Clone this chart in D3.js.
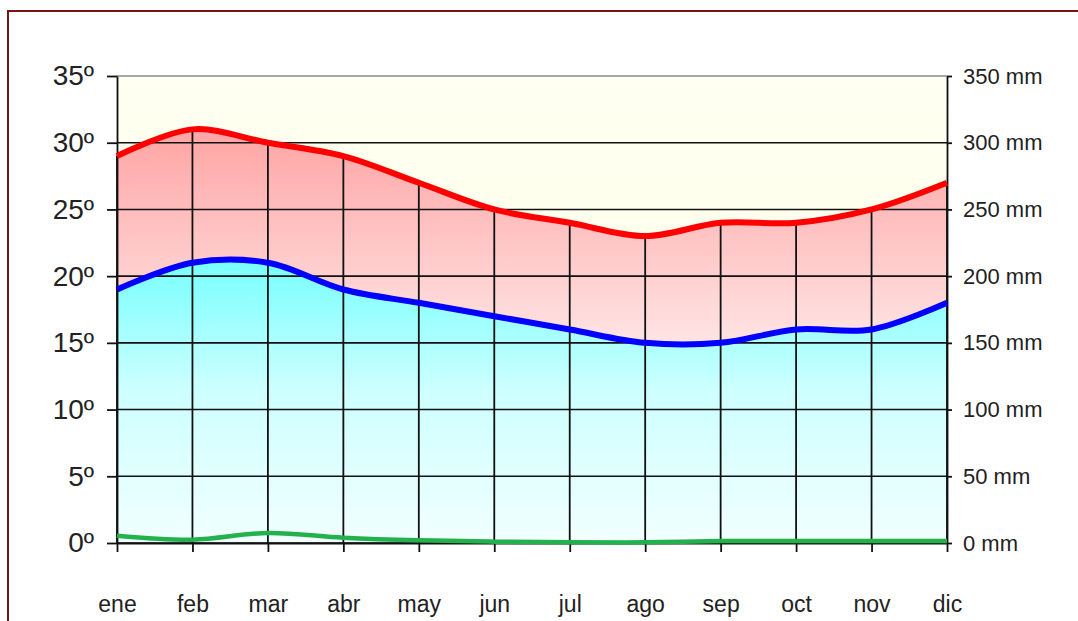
<!DOCTYPE html>
<html>
<head>
<meta charset="utf-8">
<script src="https://cdn.jsdelivr.net/npm/d3@7"></script>
<style>
  body { margin: 0; background: #fff; }
  svg { display: block; }
</style>
</head>
<body>
<div class="vis-clima"></div>
<script>
// climate data
const months = ['ene', 'feb', 'mar', 'abr', 'may', 'jun', 'jul', 'ago', 'sep', 'oct', 'nov', 'dic'];
const tempMax = [29, 31, 30, 29, 27, 25, 24, 23, 24, 24, 25, 27];
const tempMin = [19, 21, 21, 19, 18, 17, 16, 15, 15, 16, 16, 18];
const precip = [5.5, 2.5, 7.5, 4, 2, 1, 0.5, 0.5, 1.5, 1.5, 1.5, 1.5];
const tempTicks = [0, 5, 10, 15, 20, 25, 30, 35];
const mmTicks = [0, 50, 100, 150, 200, 250, 300, 350];

const W = 1078, H = 621;
const margin = {top: 76, right: 131, bottom: 78, left: 117};
const width = W - margin.left - margin.right;
const height = H - margin.top - margin.bottom;

const root = d3.select('.vis-clima').append('svg')
    .attr('width', W)
    .attr('height', H);

// frame (dark red, top and left only)
root.append('path')
    .attr('d', 'M8,' + H + 'V11H' + W)
    .attr('fill', 'none')
    .attr('stroke', '#7a1414')
    .attr('stroke-width', 2);

const defs = root.append('defs');
const grad = (id, y0, y1, stops) => {
    const g = defs.append('linearGradient')
        .attr('id', id)
        .attr('gradientUnits', 'userSpaceOnUse')
        .attr('x1', 0).attr('x2', 0)
        .attr('y1', y0).attr('y2', y1);
    stops.forEach(s => g.append('stop').attr('offset', s[0]).attr('stop-color', s[1]));
};

const svg = root.append('g')
    .attr('transform', 'translate(' + margin.left + ',' + margin.top + ')');

let x = d3.scalePoint().domain(months).range([0, width]);
let yT = d3.scaleLinear().domain([0, 35]).range([height, 0]);
let yP = d3.scaleLinear().domain([0, 350]).range([height, 0]);

grad('bgYellow', 0, height, [[0, '#fffff2'], [1, '#ffffe4']]);
grad('pink', yT(31), yT(15), [[0, '#ffa4a4'], [1, '#ffe4e4']]);
grad('cyan', yT(21), height, [[0, '#78ffff'], [0.45, '#ccffff'], [1, '#f2ffff']]);

const curve = d3.curveCatmullRom.alpha(0.5);

// plot background
svg.append('rect')
    .attr('width', width)
    .attr('height', height)
    .attr('fill', 'url(#bgYellow)');

// area under max temp and under min temp
svg.append('path')
    .datum(months)
    .attr('fill', 'url(#pink)')
    .attr('d', d3.area().curve(curve)
        .x(d => x(d))
        .y0(height)
        .y1((d, i) => yT(tempMax[i])));

svg.append('path')
    .datum(months)
    .attr('fill', 'url(#cyan)')
    .attr('d', d3.area().curve(curve)
        .x(d => x(d))
        .y0(height)
        .y1((d, i) => yT(tempMin[i])));

// horizontal gridlines
svg.selectAll('.hgrid')
    .data(tempTicks)
    .enter().append('line')
    .attr('class', 'hgrid')
    .attr('x1', 0).attr('x2', width)
    .attr('y1', d => yT(d)).attr('y2', d => yT(d))
    .attr('stroke', d => d === 35 ? '#8a8a8a' : '#111')
    .attr('stroke-width', 1.6);

// drop lines from the max series
svg.selectAll('.drop')
    .data(months)
    .enter().append('line')
    .attr('class', 'drop')
    .attr('x1', d => x(d)).attr('x2', d => x(d))
    .attr('y1', (d, i) => yT(tempMax[i])).attr('y2', height)
    .attr('stroke', '#111')
    .attr('stroke-width', 1.8);

// axes
const styleAxis = (g) => {
    g.select('.domain').attr('stroke', '#111').attr('stroke-width', 1.8);
    g.selectAll('.tick line').attr('stroke', '#111').attr('stroke-width', 1.8);
    g.selectAll('.tick text')
        .attr('fill', '#222')
        .style('font-family', '"Liberation Sans", Arial, sans-serif');
};

svg.append('g')
    .call(d3.axisLeft(yT).tickValues(tempTicks).tickFormat(d => d + 'º')
        .tickSize(10).tickSizeOuter(0).tickPadding(13))
    .call(styleAxis)
    .call(g => g.selectAll('.tick text').style('font-size', '28px'));

svg.append('g')
    .attr('transform', 'translate(' + width + ',0)')
    .call(d3.axisRight(yP).tickValues(mmTicks).tickFormat(d => d + ' mm')
        .tickSize(5).tickSizeOuter(0).tickPadding(11))
    .call(styleAxis)
    .call(g => g.selectAll('.tick text').style('font-size', '22px'));

svg.append('g')
    .attr('transform', 'translate(0,' + height + ')')
    .call(d3.axisBottom(x).tickSize(9).tickSizeOuter(0).tickPadding(0))
    .call(styleAxis)
    .call(g => g.selectAll('.tick text')
        .style('font-size', '23px')
        .attr('y', 69)
        .attr('dy', 0));

// series lines
const line = (vals, yScale) => d3.line().curve(curve)
    .x(d => x(d))
    .y((d, i) => yScale(vals[i]));

svg.append('path')
    .datum(months)
    .attr('fill', 'none')
    .attr('stroke', '#22b14c')
    .attr('stroke-width', 4.5)
    .attr('d', line(precip, yP));

svg.append('path')
    .datum(months)
    .attr('fill', 'none')
    .attr('stroke', '#0000ff')
    .attr('stroke-width', 6)
    .attr('d', line(tempMin, yT));

svg.append('path')
    .datum(months)
    .attr('fill', 'none')
    .attr('stroke', '#ff0000')
    .attr('stroke-width', 6)
    .attr('d', line(tempMax, yT));
</script>
</body>
</html>
